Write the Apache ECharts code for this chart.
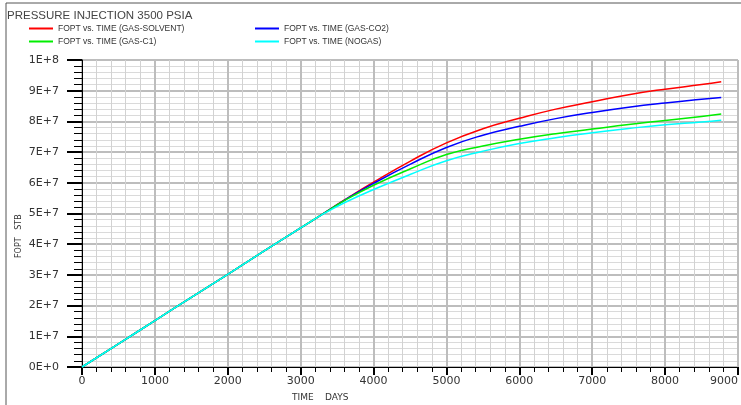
<!DOCTYPE html>
<html>
<head>
<meta charset="utf-8">
<script src="https://cdn.jsdelivr.net/npm/echarts@6/dist/echarts.min.js"></script>
<style>
  html, body { margin: 0; padding: 0; background: #fff; }
  #chart { width: 741px; height: 405px; }
</style>
</head>
<body>
<div id="chart"></div>
<script>
// time axis (days)
var days = [0, 500, 1000, 1500, 2000, 2500, 3000, 3300, 3600, 4000, 4500, 5000, 5500, 6000, 6500, 7000, 7500, 8000, 8500, 8770];

// FOPT values (STB)
var gasSolvent = [0, 0.755e7, 1.51e7, 2.27e7, 3.02e7, 3.78e7, 4.53e7, 4.98e7, 5.44e7, 6.02e7, 6.70e7, 7.30e7, 7.76e7, 8.10e7, 8.40e7, 8.64e7, 8.87e7, 9.05e7, 9.20e7, 9.29e7];
var gasCO2 = [0, 0.755e7, 1.51e7, 2.27e7, 3.02e7, 3.78e7, 4.53e7, 4.98e7, 5.43e7, 5.98e7, 6.60e7, 7.15e7, 7.55e7, 7.84e7, 8.09e7, 8.29e7, 8.46e7, 8.60e7, 8.72e7, 8.78e7];
var gasC1 = [0, 0.755e7, 1.51e7, 2.27e7, 3.02e7, 3.78e7, 4.53e7, 4.98e7, 5.42e7, 5.92e7, 6.45e7, 6.92e7, 7.20e7, 7.42e7, 7.60e7, 7.75e7, 7.90e7, 8.03e7, 8.16e7, 8.24e7];
var noGas = [0, 0.755e7, 1.51e7, 2.27e7, 3.02e7, 3.78e7, 4.53e7, 4.97e7, 5.35e7, 5.78e7, 6.27e7, 6.72e7, 7.03e7, 7.28e7, 7.47e7, 7.63e7, 7.77e7, 7.89e7, 7.98e7, 8.04e7];

var seriesNames = ["FOPT vs. TIME (GAS-SOLVENT)", "FOPT vs. TIME (GAS-CO2)", "FOPT vs. TIME (GAS-C1)", "FOPT vs. TIME (NOGAS)"];
var seriesColors = ["#ff0000", "#0000ff", "#00ee00", "#00ffff"];
var seriesData = [gasSolvent, gasCO2, gasC1, noGas];

var xTickLabels = ["0", "1000", "2000", "3000", "4000", "5000", "6000", "7000", "8000", "9000"];
var yTickLabels = ["0E+0", "1E+7", "2E+7", "3E+7", "4E+7", "5E+7", "6E+7", "7E+7", "8E+7", "9E+7", "1E+8"];

function pairs(ys) {
  return days.map(function (d, i) { return [d, ys[i]]; });
}

var chart = echarts.init(document.getElementById("chart"));

var legendBase = {
  orient: "vertical",
  top: 23,
  icon: "rect",
  itemWidth: 24,
  itemHeight: 2,
  itemGap: 2,
  itemTextGap: 3,
  padding: 0,
  textStyle: { fontSize: 8.5, lineHeight: 11, color: "#333", fontFamily: "Liberation Sans" }
};

var option = {
  animation: false,
  backgroundColor: "#fff",
  title: {
    text: "PRESSURE INJECTION 3500 PSIA",
    left: 7,
    top: 10,
    padding: 0,
    textStyle: { fontSize: 11.5, fontWeight: "normal", color: "#444", fontFamily: "Liberation Sans" }
  },
  legend: [
    Object.assign({}, legendBase, { left: 29, data: [seriesNames[0], seriesNames[2]] }),
    Object.assign({}, legendBase, { left: 255, data: [seriesNames[1], seriesNames[3]] })
  ],
  grid: { left: 82, top: 60, right: 1, bottom: 38, containLabel: false },
  xAxis: {
    type: "value",
    min: 0,
    max: 9000,
    interval: 1000,
    axisLine: { lineStyle: { color: "#000", width: 1 } },
    axisTick: { length: 8, lineStyle: { color: "#000", width: 2 } },
    minorTick: { show: true, splitNumber: 5, length: 5, lineStyle: { color: "#000", width: 1 } },
    axisLabel: {
      margin: 9,
      fontSize: 11,
      color: "#333",
      fontFamily: "DejaVu Sans",
      alignMaxLabel: "right",
      formatter: function (v, i) { return xTickLabels[i]; }
    },
    splitLine: { show: true, lineStyle: { color: "#bdbdbd", width: 2 } },
    minorSplitLine: { show: true, lineStyle: { color: "#d2d2d2", width: 1 } }
  },
  yAxis: {
    type: "value",
    min: 0,
    max: 1e8,
    interval: 1e7,
    axisLine: { show: true, lineStyle: { color: "#000", width: 1 } },
    axisTick: { show: true, length: 15, lineStyle: { color: "#000", width: 2 } },
    minorTick: { show: true, splitNumber: 5, length: 8, lineStyle: { color: "#000", width: 1 } },
    axisLabel: {
      margin: 23,
      fontSize: 11,
      color: "#333",
      fontFamily: "DejaVu Sans",
      formatter: function (v, i) { return yTickLabels[i]; }
    },
    splitLine: { show: true, lineStyle: { color: "#bdbdbd", width: 2 } },
    minorSplitLine: { show: true, lineStyle: { color: "#dadada", width: 1 } }
  },
  graphic: [
    {
      type: "rect",
      silent: true,
      shape: { x: 6, y: 3, width: 800, height: 500 },
      style: { fill: "none", stroke: "#555", lineWidth: 1 }
    },
    {
      type: "text",
      silent: true,
      x: 292,
      y: 393,
      style: { text: "TIME    DAYS", fontSize: 9, fill: "#333", fontFamily: "DejaVu Sans" }
    },
    {
      type: "text",
      silent: true,
      x: 15,
      y: 258,
      rotation: Math.PI / 2,
      style: { text: "FOPT   STB", fontSize: 8, fill: "#333", fontFamily: "DejaVu Sans" }
    }
  ],
  series: seriesNames.map(function (name, k) {
    return {
      name: name,
      type: "line",
      showSymbol: false,
      smooth: true,
      data: pairs(seriesData[k]),
      lineStyle: { color: seriesColors[k], width: 1.5 },
      itemStyle: { color: seriesColors[k] },
      z: 2 + k
    };
  })
};

chart.setOption(option);
</script>
</body>
</html>
